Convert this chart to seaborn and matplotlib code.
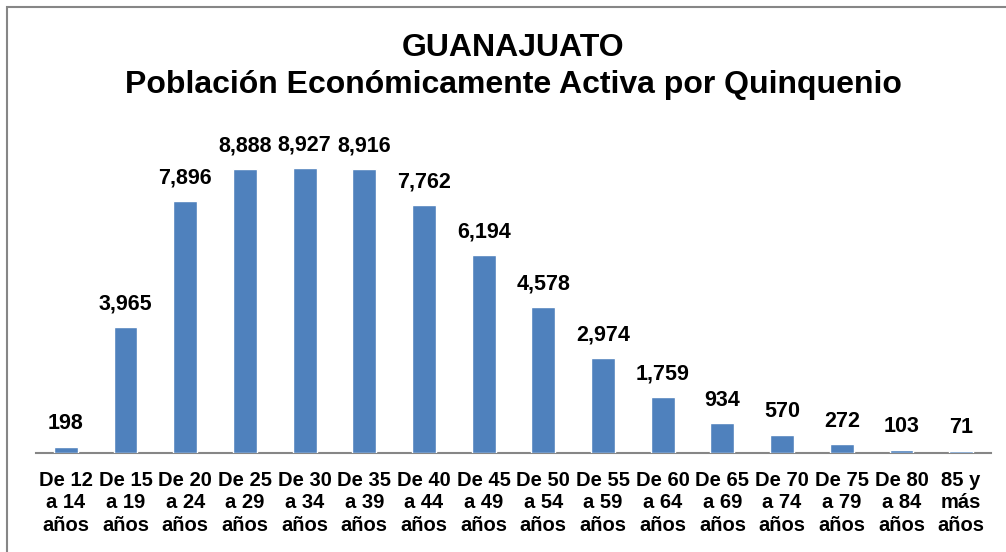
import numpy as np
import pandas as pd
import matplotlib
matplotlib.use("Agg")
import matplotlib.pyplot as plt
import seaborn as sns
from matplotlib.patches import Rectangle

sns.set_style("white")
plt.rcParams['font.family'] = ['Liberation Sans', 'DejaVu Sans']
plt.rcParams['text.color'] = 'black'
plt.rcParams['xtick.color'] = 'black'

# data
categories = ["De 12\na 14\naños", "De 15\na 19\naños", "De 20\na 24\naños", "De 25\na 29\naños",
              "De 30\na 34\naños", "De 35\na 39\naños", "De 40\na 44\naños", "De 45\na 49\naños",
              "De 50\na 54\naños", "De 55\na 59\naños", "De 60\na 64\naños", "De 65\na 69\naños",
              "De 70\na 74\naños", "De 75\na 79\naños", "De 80\na 84\naños", "85 y\nmás\naños"]
values = [198, 3965, 7896, 8888, 8927, 8916, 7762, 6194, 4578, 2974, 1759, 934, 570, 272, 103, 71]

df = pd.DataFrame({"grupo": categories, "pea": values})

fig = plt.figure(figsize=(10.06, 5.52), dpi=100)
ax = fig.add_axes([36/1006, 99/552, (991-36)/1006, (453-134)/552])

sns.barplot(data=df, x="grupo", y="pea", color="#4F81BD", saturation=1, width=0.4, ax=ax)
for bar in ax.patches:
    bar.set_zorder(3)

for i, v in enumerate(values):
    ax.annotate(f"{v:,}", (i, v), xytext=(0, 9), textcoords="offset points",
                ha="center", va="bottom", fontsize=15.5, fontweight="bold", color="black")

ax.set_ylim(0, 10000)
ax.set_xlim(-0.5, len(values) - 0.5)
ax.set_xlabel("")
ax.set_ylabel("")
ax.set_yticks([])
ax.tick_params(axis="x", length=0, pad=13, labelcolor="black")
for lab in ax.get_xticklabels():
    lab.set_fontsize(14.5)
    lab.set_fontweight("bold")
    lab.set_linespacing(1.22)
sns.despine(ax=ax, left=True)
ax.spines["bottom"].set_color("#868686")
ax.spines["bottom"].set_linewidth(1.5)

fig.text(513/1006, 1 - 33/552, "GUANAJUATO\nPoblación Económicamente Activa por Quinquenio",
         ha="center", va="top", fontsize=23, fontweight="bold", linespacing=1.3, color="black")

# chart frame (only left and top edges visible in the reference)
fig.patches.append(Rectangle((7/1006, -0.1), 1.2, 1 - 7/552 + 0.1, transform=fig.transFigure,
                             fill=False, edgecolor="#868686", linewidth=1.5))

fig.savefig("out.png", dpi=100)
